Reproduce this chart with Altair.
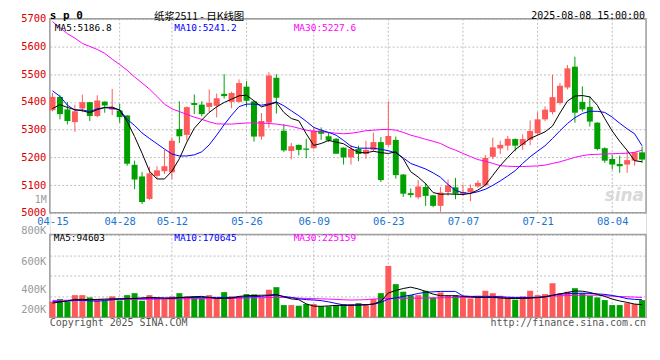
import altair as alt
import pandas as pd

# ---------------- data ----------------
tick_idx = [0, 9, 16, 26, 35, 45, 55, 65, 75]
tick_labels = ["04-15", "04-28", "05-12", "05-26", "06-09", "06-23", "07-07", "07-21", "08-04"]
price_ticks = [5000, 5100, 5200, 5300, 5400, 5500, 5600, 5700]
vol_ticks = [200, 400, 600, 800]          # thousand lots

opens = [5370, 5418, 5373, 5327, 5376, 5399, 5349, 5401, 5372, 5369,
         5351, 5173, 5131, 5050, 5133, 5150, 5146, 5302, 5281, 5396,
         5390, 5382, 5386, 5429, 5400, 5400, 5455, 5402, 5275, 5326,
         5487, 5296, 5223, 5245, 5232, 5233, 5297, 5276, 5267, 5235,
         5200, 5230, 5212, 5227, 5255, 5245, 5263, 5138, 5071, 5056,
         5093, 5063, 5025, 5075, 5092, 5069, 5075, 5095, 5099, 5202,
         5232, 5242, 5266, 5245, 5263, 5287, 5337, 5363, 5396, 5452,
         5527, 5400, 5382, 5325, 5233, 5194, 5176, 5174, 5188, 5218]
closes = [5418, 5356, 5331, 5366, 5399, 5349, 5405, 5387, 5380, 5345,
          5177, 5120, 5039, 5142, 5153, 5168, 5260, 5276, 5381, 5389,
          5356, 5396, 5413, 5421, 5432, 5468, 5404, 5275, 5331, 5495,
          5415, 5225, 5240, 5227, 5227, 5297, 5285, 5261, 5213, 5200,
          5230, 5212, 5227, 5255, 5118, 5277, 5136, 5069, 5064, 5095,
          5061, 5025, 5073, 5099, 5069, 5075, 5089, 5108, 5198, 5236,
          5245, 5267, 5242, 5266, 5295, 5337, 5372, 5417, 5458, 5521,
          5361, 5373, 5329, 5230, 5188, 5174, 5168, 5190, 5218, 5192]
highs = [5432, 5424, 5400, 5390, 5426, 5400, 5424, 5402, 5447, 5393,
         5352, 5188, 5147, 5166, 5168, 5227, 5272, 5402, 5384, 5427,
         5402, 5445, 5430, 5500, 5437, 5481, 5475, 5404, 5360, 5507,
         5500, 5320, 5252, 5246, 5267, 5308, 5308, 5288, 5270, 5236,
         5245, 5242, 5260, 5289, 5273, 5402, 5275, 5140, 5088, 5118,
         5108, 5064, 5093, 5120, 5126, 5102, 5102, 5117, 5208, 5271,
         5260, 5277, 5268, 5283, 5333, 5363, 5384, 5498, 5468, 5533,
         5563, 5456, 5420, 5327, 5236, 5208, 5206, 5224, 5220, 5239]
lows = [5366, 5337, 5319, 5292, 5363, 5331, 5345, 5361, 5352, 5325,
        5170, 5085, 5032, 5047, 5125, 5140, 5122, 5252, 5261, 5356,
        5348, 5362, 5344, 5412, 5377, 5398, 5382, 5257, 5264, 5307,
        5358, 5220, 5193, 5207, 5197, 5229, 5263, 5255, 5213, 5174,
        5174, 5186, 5195, 5220, 5111, 5240, 5123, 5057, 5055, 5049,
        5025, 5020, 5004, 5061, 5049, 5060, 5042, 5090, 5095, 5194,
        5212, 5225, 5222, 5227, 5244, 5280, 5330, 5355, 5390, 5445,
        5325, 5365, 5311, 5225, 5180, 5156, 5144, 5144, 5170, 5180]
ma5 = [5376, 5390, 5380, 5372, 5368, 5361, 5372, 5380, 5381, 5370,
       5330, 5275, 5215, 5150, 5122, 5122, 5150, 5195, 5255, 5305,
       5335, 5362, 5382, 5398, 5410, 5422, 5424, 5404, 5382, 5390,
       5398, 5362, 5340, 5332, 5285, 5243, 5250, 5261, 5255, 5249,
       5232, 5218, 5216, 5222, 5217, 5214, 5220, 5195, 5148, 5129,
       5105, 5073, 5067, 5068, 5067, 5066, 5070, 5082, 5100, 5135,
       5170, 5200, 5228, 5248, 5268, 5280, 5292, 5313, 5360, 5403,
       5421, 5423, 5418, 5388, 5340, 5295, 5258, 5225, 5188, 5184]
ma10 = [5440, 5420, 5388, 5370, 5371, 5365, 5375, 5379, 5377, 5372,
        5337, 5315, 5288, 5268, 5249, 5230, 5212, 5205, 5205, 5209,
        5220, 5245, 5280, 5318, 5352, 5383, 5392, 5392, 5388, 5393,
        5400, 5386, 5368, 5350, 5330, 5308, 5298, 5290, 5280, 5261,
        5240, 5233, 5233, 5233, 5229, 5224, 5216, 5198, 5178, 5168,
        5158, 5144, 5128, 5102, 5081, 5072, 5070, 5076, 5085, 5099,
        5115, 5133, 5152, 5178, 5202, 5222, 5242, 5268, 5296, 5322,
        5343, 5358, 5366, 5366, 5362, 5345, 5323, 5303, 5285, 5242]
ma30 = [5689, 5668, 5646, 5630, 5611, 5600, 5589, 5575, 5554, 5535,
        5514, 5490, 5468, 5446, 5420, 5392, 5375, 5365, 5355, 5345,
        5337, 5328, 5321, 5320, 5320, 5322, 5324, 5324, 5324, 5322,
        5320, 5316, 5312, 5305, 5298, 5294, 5292, 5290, 5287, 5285,
        5287, 5291, 5296, 5298, 5300, 5301, 5298, 5290, 5280, 5273,
        5265, 5258, 5250, 5236, 5226, 5214, 5203, 5192, 5186, 5178,
        5170, 5168, 5167, 5167, 5168, 5169, 5172, 5178, 5184, 5192,
        5200, 5206, 5210, 5211, 5212, 5213, 5214, 5215, 5218, 5226]
volumes = [151, 176, 151, 214, 214, 192, 176, 160, 202, 163,
           214, 233, 160, 214, 189, 176, 202, 233, 202, 202,
           189, 214, 189, 243, 202, 202, 224, 221, 192, 266,
           291, 118, 118, 112, 128, 128, 106, 106, 118, 128,
           128, 137, 128, 176, 233, 496, 320, 247, 214, 214,
           256, 192, 240, 214, 214, 202, 182, 208, 256, 233,
           208, 192, 170, 202, 256, 214, 224, 329, 233, 247,
           281, 233, 208, 192, 166, 118, 118, 137, 128, 166]
vma5 = [137, 149, 158, 173, 173, 170, 173, 176, 178, 180,
        180, 182, 187, 192, 189, 185, 182, 190, 195, 199,
        202, 192, 182, 184, 185, 202, 208, 211, 213, 214,
        221, 197, 178, 170, 130, 108, 106, 110, 115, 115,
        115, 118, 120, 130, 154, 235, 259, 278, 291, 274,
        250, 224, 208, 208, 208, 202, 197, 192, 192, 192,
        187, 182, 182, 182, 185, 190, 197, 211, 226, 240,
        254, 252, 240, 221, 202, 176, 158, 144, 128, 122]
vma10 = [151, 151, 156, 163, 163, 159, 156, 162, 169, 176,
         179, 182, 183, 184, 185, 186, 188, 189, 190, 192,
         192, 192, 192, 192, 192, 195, 198, 200, 202, 209,
         214, 202, 192, 178, 171, 167, 161, 149, 134, 120,
         119, 121, 123, 125, 144, 176, 187, 202, 214, 230,
         242, 246, 250, 250, 250, 206, 202, 202, 202, 202,
         198, 194, 192, 192, 192, 192, 200, 213, 224, 228,
         230, 233, 230, 226, 221, 211, 197, 180, 173, 170]
vma30 = [163, 164, 165, 166, 166, 167, 169, 170, 171, 172,
         172, 173, 173, 174, 175, 176, 177, 178, 179, 180,
         180, 180, 181, 182, 182, 184, 186, 188, 189, 191,
         192, 192, 190, 185, 182, 180, 178, 176, 173, 169,
         167, 168, 171, 176, 180, 182, 183, 184, 184, 185,
         185, 186, 188, 190, 191, 192, 192, 192, 191, 191,
         190, 190, 189, 189, 190, 194, 199, 204, 208, 210,
         212, 213, 214, 213, 208, 204, 201, 198, 195, 192]

# ---------------- styling / layout ----------------
RED = "#ff5a5a"
GREEN = "#00a000"
MONO = "DejaVu Sans Mono"
W, H = 599, 300
PRICE_H = 195.0   # px used by the price panel
VOL_H = 83.3      # px used by the volume panel
X_DOMAIN = [-0.36, 79.53]
P_DOMAIN = [5700 - H * 700 / PRICE_H, 5700]
V_DOMAIN = [0, 800 * H / VOL_H]

n = len(opens)
df = pd.DataFrame({
    "i": list(range(n)), "open": opens, "close": closes, "high": highs, "low": lows,
    "ma5": ma5, "ma10": ma10, "ma30": ma30,
    "vol": volumes, "vma5": vma5, "vma10": vma10, "vma30": vma30,
})
df["dir"] = ["up" if c >= o else "down" for o, c in zip(opens, closes)]
ticks_df = pd.DataFrame({"i": tick_idx, "label": tick_labels})

xs = alt.Scale(domain=X_DOMAIN, nice=False, zero=False, padding=0)
ps = alt.Scale(domain=P_DOMAIN, nice=False, zero=False)
vs = alt.Scale(domain=V_DOMAIN, nice=False, zero=False)
color = alt.Color("dir:N", scale=alt.Scale(domain=["up", "down"], range=[RED, GREEN]), legend=None)

label_expr = ("[" + ",".join("'%s'" % s for s in tick_labels) + "][indexof(["
              + ",".join(str(v) for v in tick_idx) + "], datum.value)]")
x_axis = alt.Axis(values=tick_idx, labelExpr=label_expr, orient="bottom",
                  offset=-(H - PRICE_H), domain=False, ticks=False, grid=False,
                  labelColor="#1a74cf", labelFont=MONO, labelFontSize=10.5,
                  labelPadding=4, labelFlush=False, labelOverlap=False, title=None)
price_axis = alt.Axis(values=price_ticks, format="d", orient="left", domain=False, ticks=False,
                      labelColor="#dd0000", labelFont=MONO, labelFontSize=10.5,
                      labelPadding=4, grid=True, gridColor="#bdbdbd", gridDash=[2, 2],
                      title=None)
vol_axis = alt.Axis(values=vol_ticks, orient="left", domain=False, ticks=False,
                    labelExpr="datum.value + 'K'", labelColor="#9a9a9a", labelFont=MONO,
                    labelFontSize=10.5, labelPadding=4, grid=True, gridColor="#bdbdbd",
                    gridDash=[2, 2], title=None,
                    labelOffset={"condition": [
                        {"test": "datum.value == 800", "value": -4},
                        {"test": "datum.value == 600", "value": 6},
                        {"test": "datum.value == 400", "value": 14},
                        {"test": "datum.value == 200", "value": 13}], "value": 0})


def X():
    return alt.X("i:Q", scale=xs, axis=x_axis)


base = alt.Chart(df)
frame_df = pd.DataFrame({"k": [0]})

# ---- price panel ----
p_grid = alt.Chart(ticks_df).transform_filter("datum.i > 0").mark_rule(
    color="#bdbdbd", strokeDash=[2, 2], strokeWidth=1).encode(
    x=X(), y=alt.YDatum(5700, scale=ps, axis=price_axis), y2=alt.Y2Datum(5000))
p_frame = alt.Chart(frame_df).mark_rect(fillOpacity=0, stroke="#a0a0a0", strokeWidth=1.5).encode(
    x=alt.value(0), x2=alt.value(W),
    y=alt.YDatum(5700, scale=ps, axis=price_axis), y2=alt.Y2Datum(5000))
wicks = base.mark_rule(strokeWidth=1).encode(
    x=X(), y=alt.Y("low:Q", scale=ps, axis=price_axis), y2="high:Q", color=color)
bodies = base.mark_bar(size=6, orient="vertical").encode(
    x=X(), y=alt.Y("open:Q", scale=ps, axis=price_axis), y2="close:Q", color=color)
l5 = base.mark_line(color="#000000", strokeWidth=1).encode(
    x=X(), y=alt.Y("ma5:Q", scale=ps, axis=price_axis))
l10 = base.mark_line(color="#0000ff", strokeWidth=1).encode(
    x=X(), y=alt.Y("ma10:Q", scale=ps, axis=price_axis))
l30 = base.mark_line(color="#ff00ff", strokeWidth=1).encode(
    x=X(), y=alt.Y("ma30:Q", scale=ps, axis=price_axis))
price = alt.layer(p_grid, p_frame, wicks, bodies, l30, l10, l5)

# ---- volume panel ----
v_grid = alt.Chart(ticks_df).transform_filter("datum.i > 0").mark_rule(
    color="#bdbdbd", strokeDash=[2, 2], strokeWidth=1).encode(
    x=X(), y=alt.YDatum(800, scale=vs, axis=vol_axis), y2=alt.Y2Datum(0))
v_frame = alt.Chart(frame_df).mark_rect(fillOpacity=0, stroke="#a0a0a0", strokeWidth=1.5).encode(
    x=alt.value(0), x2=alt.value(W),
    y=alt.YDatum(800, scale=vs, axis=vol_axis), y2=alt.Y2Datum(0))
vbars = base.mark_bar(size=6, orient="vertical").encode(
    x=X(), y=alt.Y("vol:Q", scale=vs, axis=vol_axis), y2=alt.Y2Datum(0), color=color)
vl5 = base.mark_line(color="#000000", strokeWidth=1).encode(
    x=X(), y=alt.Y("vma5:Q", scale=vs, axis=vol_axis))
vl10 = base.mark_line(color="#0000ff", strokeWidth=1).encode(
    x=X(), y=alt.Y("vma10:Q", scale=vs, axis=vol_axis))
vl30 = base.mark_line(color="#ff00ff", strokeWidth=1).encode(
    x=X(), y=alt.Y("vma30:Q", scale=vs, axis=vol_axis))
volume = alt.layer(v_grid, v_frame, vbars, vl30, vl10, vl5)


# ---- text annotations ----
def txt(text, x, y, color="#000000", size=10, align="left", font=MONO,
        weight="normal", style="normal", opacity=1.0):
    return alt.Chart(pd.DataFrame({"t": [text]})).mark_text(
        align=align, baseline="middle", color=color, fontSize=size, font=font,
        fontWeight=weight, fontStyle=style, opacity=opacity).encode(
        x=alt.value(x), y=alt.value(y), text="t:N")


texts = [
    txt("s p 0", 0, -2.5, size=11, weight="bold"),
    txt("纸浆2511 - 日K线图", 150, -2, size=10.5, align="center", font="Noto Sans CJK SC"),
    txt("2025-08-08 15:00:00", 598, -2.5, size=10, align="right"),
    txt("MA5:5186.8", 5, 9, color="#000000", size=9.5),
    txt("MA10:5241.2", 125, 9, color="#0000ff", size=9.5),
    txt("MA30:5227.6", 245, 9, color="#ff00ff", size=9.5),
    txt("1M", -3, 182, color="#9a9a9a", size=10, align="right"),
    txt("sina", 597, 178, color="#d9d9d9", size=17, align="right", font="DejaVu Sans",
        weight="bold", style="italic"),
    txt("MA5:94603", 4, 220, color="#000000", size=9.5),
    txt("MA10:170645", 125, 220, color="#0000ff", size=9.5),
    txt("MA30:225159", 245, 220, color="#ff00ff", size=9.5),
    txt("Copyright 2025 SINA.COM", 0, 306, color="#555555", size=10),
    txt("http://finance.sina.com.cn", 599, 306, color="#555555", size=10, align="right"),
]

chart = alt.layer(price, volume, *texts).resolve_scale(y="independent").properties(
    width=W, height=H,
    autosize=alt.AutoSizeParams(type="none"),
    padding={"left": 42, "top": 10, "right": 6, "bottom": 16},
).configure_view(stroke=None).configure(background="#ffffff")

chart.save("out.html", embed_options={"renderer": "svg", "actions": False})
